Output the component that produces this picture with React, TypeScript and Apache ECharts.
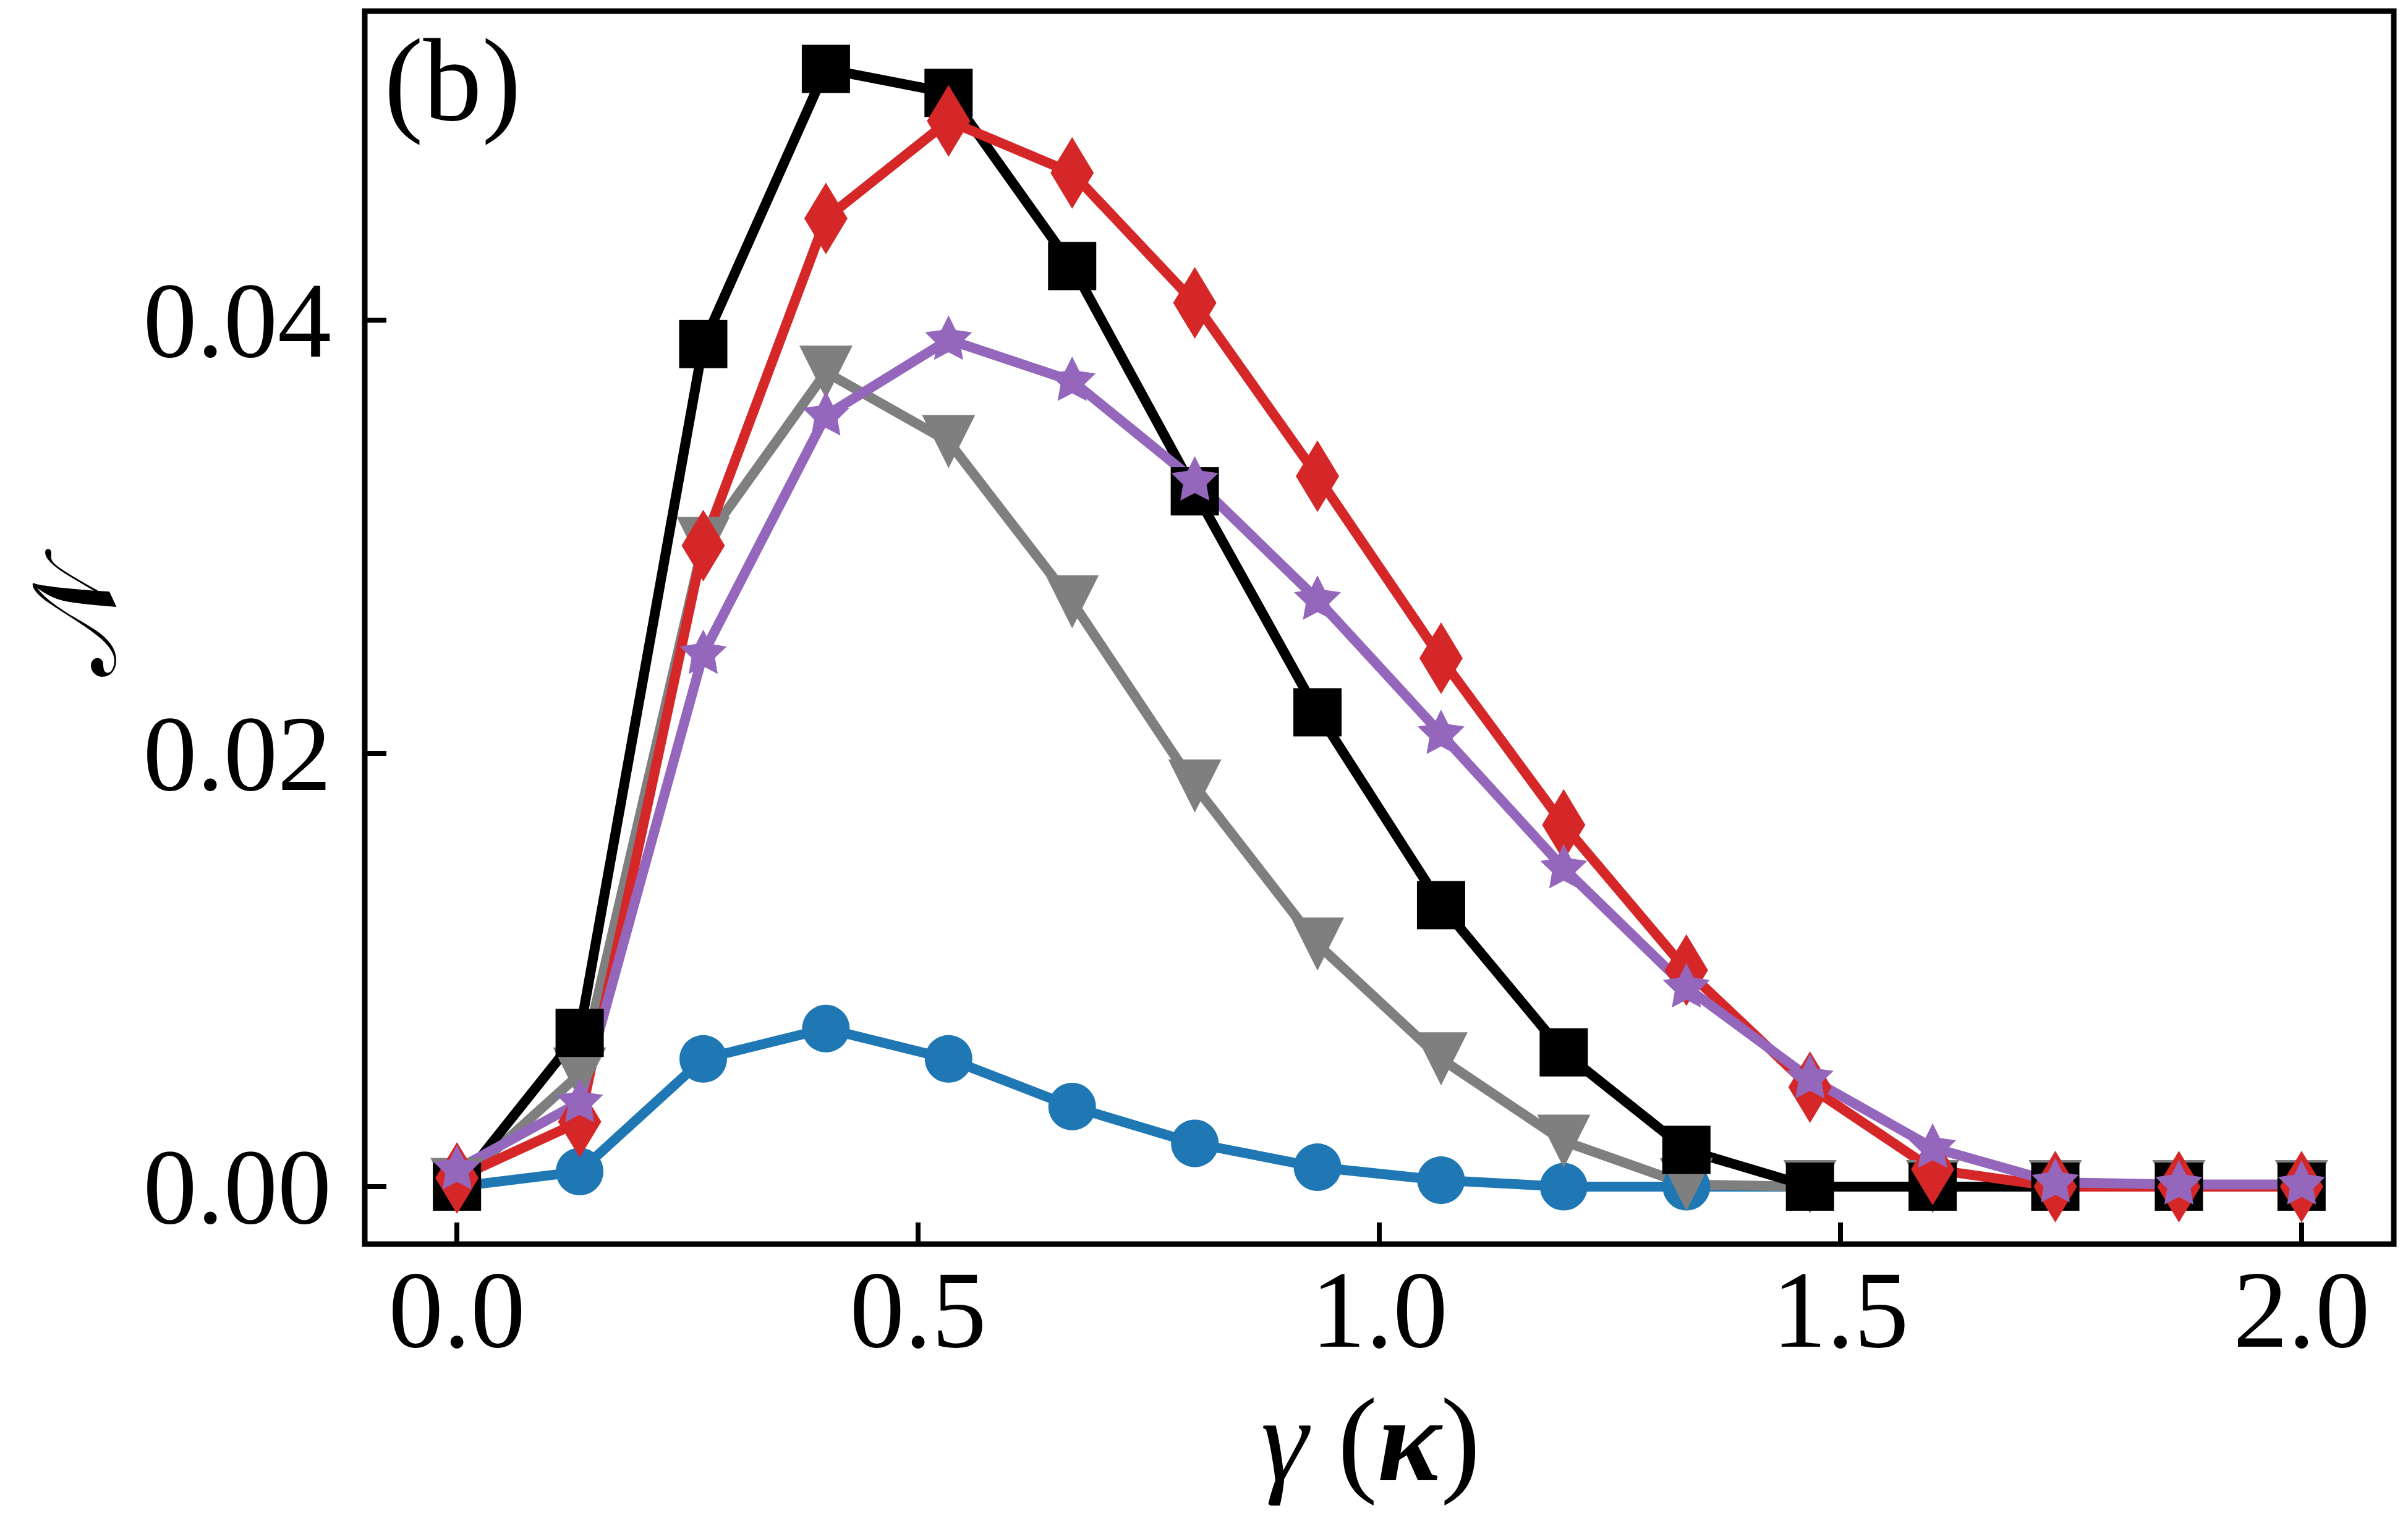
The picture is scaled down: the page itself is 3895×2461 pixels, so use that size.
import React, { useEffect, useRef } from "react";
import * as echarts from "echarts";

// gamma (kappa) sample points
const gamma = [0, 0.133, 0.267, 0.4, 0.533, 0.667, 0.8, 0.933, 1.067, 1.2, 1.333, 1.467, 1.6, 1.733, 1.867, 2.0];

// series values (N)
const blueCircles = [0, 0.0007, 0.0059, 0.0073, 0.0059, 0.0037, 0.002, 0.0009, 0.0003, 0, 0, 0, 0, 0, 0, 0];
const grayTriangles = [0.0001, 0.0052, 0.0297, 0.0376, 0.0344, 0.027, 0.0185, 0.0112, 0.0059, 0.0021, 0.0001, 0, 0, 0, 0, 0];
const blackSquares = [0, 0.0071, 0.0389, 0.0516, 0.0505, 0.0425, 0.0321, 0.0219, 0.013, 0.0062, 0.0017, 0, 0, 0, 0, 0];
const redDiamonds = [0.0004, 0.003, 0.0296, 0.0447, 0.0492, 0.0468, 0.0408, 0.0328, 0.0244, 0.0167, 0.01, 0.0046, 0.0008, 0, 0, 0];
const purpleStars = [0.0008, 0.0039, 0.0246, 0.0356, 0.0391, 0.0372, 0.0326, 0.0271, 0.0209, 0.0147, 0.0092, 0.005, 0.0018, 0.0002, 0.0001, 0.0001];

// tick labels
const xTicks = [0, 0.5, 1.0, 1.5, 2.0];
const yTicks = [0, 0.02, 0.04];

const FONT = "'Liberation Serif', 'DejaVu Serif', serif";

function starSymbol(): string {
  const R = 50;
  const r = R * 0.5;
  const pts: string[] = [];
  for (let k = 0; k < 10; k++) {
    const a = -Math.PI / 2 + (k * Math.PI) / 5;
    const rad = k % 2 === 0 ? R : r;
    pts.push(`${(rad * Math.cos(a)).toFixed(3)} ${(rad * Math.sin(a)).toFixed(3)}`);
  }
  return "path://M" + pts.join(" L") + " Z";
}

function pairs(ys: number[]) {
  return gamma.map((x, i) => [x, ys[i]]);
}

function lineSeries(name: string, ys: number[], color: string, symbol: string, size: any, extra: any = {}) {
  return {
    name,
    type: "line",
    data: pairs(ys),
    symbol,
    symbolSize: size,
    showSymbol: true,
    showAllSymbol: true,
    clip: false,
    lineStyle: { color, width: 16 },
    itemStyle: { color, borderWidth: 0 },
    emphasis: { disabled: true },
    ...extra,
  };
}

export default function App() {
  const ref = useRef<HTMLDivElement>(null);

  useEffect(() => {
    if (!ref.current) return;
    const chart = echarts.init(ref.current, null, { renderer: "svg" });
    const option: any = {
      animation: false,
      backgroundColor: "#ffffff",
      grid: {
        left: 590,
        top: 18,
        right: 23,
        bottom: 448,
        show: true,
        borderColor: "#000",
        borderWidth: 9,
        backgroundColor: "transparent",
      },
      xAxis: {
        type: "value",
        min: -0.1,
        max: 2.1,
        axisLine: { show: false, onZero: false },
        splitLine: { show: false },
        axisTick: {
          show: true,
          inside: true,
          length: 35,
          customValues: xTicks,
          lineStyle: { color: "#000", width: 8 },
        },
        axisLabel: {
          show: true,
          customValues: xTicks,
          formatter: (v: number) => v.toFixed(1),
          fontFamily: FONT,
          fontSize: 177,
          color: "#000",
          margin: 17,
        },
      },
      yAxis: {
        type: "value",
        min: -0.00265,
        max: 0.05427,
        axisLine: { show: false, onZero: false },
        splitLine: { show: false },
        axisTick: {
          show: true,
          inside: true,
          length: 35,
          customValues: yTicks,
          lineStyle: { color: "#000", width: 8 },
        },
        axisLabel: {
          show: true,
          customValues: yTicks,
          formatter: (v: number) => v.toFixed(2),
          fontFamily: FONT,
          fontSize: 174,
          color: "#000",
          margin: 54,
        },
      },
      series: [
        lineSeries("blue", blueCircles, "#1f77b4", "circle", 77),
        lineSeries("gray", grayTriangles, "#7f7f7f", "triangle", 86, { symbolRotate: 180 }),
        lineSeries("black", blackSquares, "#000000", "rect", 78),
        lineSeries("red", redDiamonds, "#d62728", "diamond", [70, 116]),
        lineSeries("purple", purpleStars, "#9467bd", starSymbol(), [76, 72], { symbolOffset: [0, -3.5] }),
      ],
      graphic: [
        {
          type: "text",
          x: 732,
          y: 130,
          style: {
            text: "(b)",
            fontFamily: FONT,
            fontSize: 190,
            fill: "#000",
            align: "center",
            verticalAlign: "middle",
          },
        },
        {
          type: "text",
          x: 120,
          y: 1004,
          rotation: Math.PI / 2,
          style: {
            text: "𝒩",
            fontFamily: "'DejaVu Serif', 'DejaVu Sans', 'Noto Sans', serif",
            fontSize: 190,
            fill: "#000",
            align: "center",
            verticalAlign: "middle",
          },
        },
        {
          type: "text",
          x: 2217,
          y: 2330,
          style: {
            text: "{g|γ} {p|(}{k|κ}{p|)}",
            fontFamily: FONT,
            fontSize: 193,
            fill: "#000",
            align: "center",
            verticalAlign: "middle",
            rich: {
              g: { fontFamily: FONT, fontSize: 193, fontStyle: "italic", fill: "#000" },
              p: { fontFamily: FONT, fontSize: 193, fill: "#000" },
              k: { fontFamily: FONT, fontSize: 193, fontStyle: "italic", fontWeight: "bold", fill: "#000" },
            },
          },
        },
      ],
    };
    chart.setOption(option);
    return () => chart.dispose();
  }, []);

  return (
    <div
      ref={ref}
      style={{ position: "absolute", left: 0, top: 0, width: 3895, height: 2461, background: "#fff" }}
    />
  );
}
